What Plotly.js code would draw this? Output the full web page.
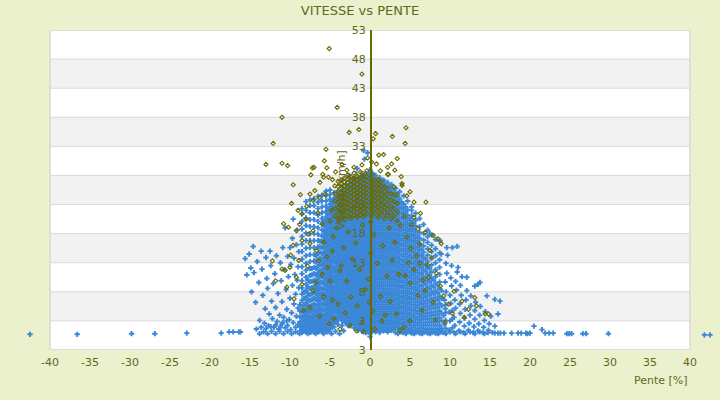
<!DOCTYPE html>
<html><head><meta charset="utf-8">
<script src="https://cdn.plot.ly/plotly-3.0.1.min.js"></script>
<style>html,body{margin:0;padding:0;background:#ebf0cd}#chart{width:720px;height:400px}</style>
</head><body><div id="chart"></div>
<script>
const chartTitle = 'VITESSE vs PENTE';
const xTitle = 'Pente [%]';
const yTitle = 'Vitesse [km/h]';
const xTicks = [-40,-35,-30,-25,-20,-15,-10,-5,0,5,10,15,20,25,30,35,40];
const yTickVals = [-2,3,8,13,18,23,28,33,38,43,48,53];
const yTickText = ['3','3','8','13','18','23','28','33','38','43','48','53'];

// Blue series: each row = [pente, vitesse, vitesse, ...]
const blueCols = [
[-8.75,1.3,2.0,2.8,3.7,4.7,5.8],
[-8.5,1.0,1.5,2.1,2.8,3.6,4.5,5.5,6.5,7.6,8.7,9.9,11.1,12.3,13.6,14.9,16.2,17.5,18.8,20.1,21.4,22.3],
[-8.25,1.4,2.1,2.9,3.8,4.8,5.8,6.9,8.0],
[-8.0,1.2,1.8,2.5,3.3,4.2,5.1,6.1,7.1,8.2,9.3,10.5,11.7,12.9,14.2,15.5,16.8,18.1,19.4,20.7,22.0,23.5],
[-7.75,1.4,2.1,2.9,3.7,4.6,5.6,6.6,7.7,8.8,10.0],
[-7.5,1.0,1.6,2.2,2.9,3.7,4.6,5.5,6.5,7.5,8.6,9.7,10.8,12.0,13.2,14.4,15.6,16.8,18.0,19.2,20.4,21.6,22.8,23.8],
[-7.25,1.5,2.2,3.0,3.8,4.7,5.6,6.6,7.6,8.7,9.8,10.9,12.0],
[-7.0,1.3,1.9,2.6,3.3,4.1,5.0,5.9,6.9,7.9,8.9,10.0,11.1,12.2,13.3,14.4,15.6,16.8,18.0,19.2,20.4,21.6,22.8,24.0],
[-6.75,1.5,2.2,3.0,3.9,4.8,5.7,6.7,7.7,8.7,9.8,10.9,12.0,13.1,14.2],
[-6.5,1.1,1.7,2.3,3.0,3.8,4.6,5.5,6.4,7.3,8.3,9.3,10.3,11.3,12.4,13.5,14.6,15.7,16.8,17.9,19.0,20.1,21.2,22.3,23.4,24.4],
[-6.25,1.6,2.4,3.2,4.1,5.0,5.9,6.8,7.7,8.7,9.7,10.7,11.7,12.7,13.7,14.7,15.7,16.7],
[-6.0,1.4,2.0,2.7,3.4,4.2,5.0,5.9,6.8,7.7,8.6,9.6,10.6,11.6,12.6,13.6,14.6,15.6,16.6,17.6,18.6,19.6,20.6,21.6,22.6,23.6,24.6],
[-5.75,1.6,2.4,3.2,4.0,4.9,5.8,6.7,7.6,8.5,9.4,10.3,11.2,12.1,13.0,13.9,14.8,15.7,16.6,17.5,18.4,19.3,20.2],
[-5.5,1.2,1.9,2.6,3.3,4.1,4.9,5.7,6.5,7.4,8.3,9.2,10.1,11.0,11.9,12.8,13.7,14.6,15.5,16.4,17.3,18.2,19.1,20.0,20.9,21.8,22.7,23.6,24.5,25.3],
[-5.25,1.6,2.5,3.4,4.3,5.2,6.1,7.0,7.9,8.8,9.7,10.6,11.5,12.4,13.3,14.2,15.1,16.0,16.9,17.8,18.7,19.6,20.5,21.4,22.3],
[-5.0,1.5,2.3,3.1,3.9,4.7,5.5,6.3,7.1,7.9,8.7,9.5,10.3,11.1,11.9,12.7,13.5,14.3,15.1,15.9,16.7,17.5,18.3,19.1,19.9,20.7,21.5,22.3,23.1,23.9,24.7,25.5],
[-4.75,1.9,2.7,3.5,4.3,5.1,5.9,6.7,7.5,8.3,9.1,9.9,10.7,11.5,12.3,13.1,13.9,14.7,15.5,16.3,17.1,17.9,18.7,19.5,20.3,21.1,21.9,22.7,23.5],
[-4.5,2.0,2.9,3.7,4.6,5.4,6.3,7.1,8.0,8.8,9.7,10.5,11.4,12.2,13.1,13.9,14.8,15.6,16.5,17.3,18.2,19.0,19.9,20.7,21.6,22.4,23.3,24.1,25.0],
[-4.25,2.8,3.6,4.5,5.3,6.2,7.0,7.9,8.7,9.6,10.4,11.3,12.1,13.0,13.8,14.7,15.5,16.4,17.2,18.1,18.9,19.8,20.6,21.5,22.3,23.2,24.0],
[-4.0,2.4,3.2,4.1,4.9,5.8,6.6,7.5,8.3,9.2,10.0,10.9,11.7,12.6,13.4,14.3,15.1,16.0,16.8,17.7,18.5,19.4,20.2,21.1,21.9,22.8,23.6,24.5,25.4],
[-3.75,3.6,4.4,5.2,6.0,6.8,7.6,8.4,9.2,10.0,10.8,11.6,12.4,13.2,14.0,14.8,15.6,16.4,17.2,18.0,18.8,19.6,20.4,21.2,22.0,22.8,23.6,24.4],
[-3.5,2.2,3.0,3.8,4.6,5.4,6.2,7.0,7.8,8.6,9.4,10.2,11.0,11.8,12.6,13.4,14.2,15.0,15.8,16.6,17.4,18.2,19.0,19.8,20.6,21.4,22.2,23.0,23.8,24.6,25.4,26.0],
[-3.25,3.0,3.8,4.6,5.4,6.2,7.0,7.8,8.6,9.4,10.2,11.0,11.8,12.6,13.4,14.2,15.0,15.8,16.6,17.4,18.2,19.0,19.8,20.6,21.4,22.2,23.0,23.8,24.6,25.4],
[-3.0,2.6,3.4,4.2,5.0,5.8,6.6,7.4,8.2,9.0,9.8,10.6,11.4,12.2,13.0,13.8,14.6,15.4,16.2,17.0,17.8,18.6,19.4,20.2,21.0,21.8,22.6,23.4,24.2,25.0,25.8,26.5],
[-2.75,2.2,3.0,3.8,4.6,5.4,6.2,7.0,7.8,8.6,9.4,10.2,11.0,11.8,12.6,13.4,14.2,15.0,15.8,16.6,17.4,18.2,19.0,19.8,20.6,21.4,22.2,23.0,23.8,24.6,25.4,26.2],
[-2.5,2.2,3.0,3.8,4.6,5.4,6.2,7.0,7.8,8.6,9.4,10.2,11.0,11.8,12.6,13.4,14.2,15.0,15.8,16.6,17.4,18.2,19.0,19.8,20.6,21.4,22.2,23.0,23.8,24.6,25.4,26.2,27.0],
[-2.25,2.6,3.4,4.2,5.0,5.8,6.6,7.4,8.2,9.0,9.8,10.6,11.4,12.2,13.0,13.8,14.6,15.4,16.2,17.0,17.8,18.6,19.4,20.2,21.0,21.8,22.6,23.4,24.2,25.0,25.8,26.6],
[-2.0,1.8,2.6,3.4,4.2,5.0,5.8,6.6,7.4,8.2,9.0,9.8,10.6,11.4,12.2,13.0,13.8,14.6,15.4,16.2,17.0,17.8,18.6,19.4,20.2,21.0,21.8,22.6,23.4,24.2,25.0,25.8,26.6,27.3],
[-1.75,2.2,3.0,3.8,4.6,5.4,6.2,7.0,7.8,8.6,9.4,10.2,11.0,11.8,12.6,13.4,14.2,15.0,15.8,16.6,17.4,18.2,19.0,19.8,20.6,21.4,22.2,23.0,23.8,24.6,25.4,26.2,27.0],
[-1.5,1.4,2.2,3.0,3.8,4.6,5.4,6.2,7.0,7.8,8.6,9.4,10.2,11.0,11.8,12.6,13.4,14.2,15.0,15.8,16.6,17.4,18.2,19.0,19.8,20.6,21.4,22.2,23.0,23.8,24.6,25.4,26.2,27.0,27.6],
[-1.25,1.8,2.6,3.4,4.2,5.0,5.8,6.6,7.4,8.2,9.0,9.8,10.6,11.4,12.2,13.0,13.8,14.6,15.4,16.2,17.0,17.8,18.6,19.4,20.2,21.0,21.8,22.6,23.4,24.2,25.0,25.8,26.6,27.4],
[-1.0,1.2,1.8,2.6,3.4,4.2,5.0,5.8,6.6,7.4,8.2,9.0,9.8,10.6,11.4,12.2,13.0,13.8,14.6,15.4,16.2,17.0,17.8,18.6,19.4,20.2,21.0,21.8,22.6,23.4,24.2,25.0,25.8,26.6,27.3,28.0],
[-0.75,1.4,2.2,3.0,3.8,4.6,5.4,6.2,7.0,7.8,8.6,9.4,10.2,11.0,11.8,12.6,13.4,14.2,15.0,15.8,16.6,17.4,18.2,19.0,19.8,20.6,21.4,22.2,23.0,23.8,24.6,25.4,26.2,27.0,27.8],
[-0.5,1.0,1.6,2.2,3.0,3.8,4.6,5.4,6.2,7.0,7.8,8.6,9.4,10.2,11.0,11.8,12.6,13.4,14.2,15.0,15.8,16.6,17.4,18.2,19.0,19.8,20.6,21.4,22.2,23.0,23.8,24.6,25.4,26.2,27.0,27.7,28.3],
[-0.25,1.3,1.9,2.6,3.4,4.2,5.0,5.8,6.6,7.4,8.2,9.0,9.8,10.6,11.4,12.2,13.0,13.8,14.6,15.4,16.2,17.0,17.8,18.6,19.4,20.2,21.0,21.8,22.6,23.4,24.2,25.0,25.8,26.6,27.4,28.2],
[0.0,0.3,0.8,1.3,1.8,2.3,2.8,3.3,3.8,4.3,4.8,5.3,5.8,6.3,6.8,7.3,7.8,8.3,8.8,9.3,9.8,10.3,10.8,11.3,11.8,12.3,12.8,13.3,13.8,14.3,14.8,15.3,15.8,16.3,16.8,17.3,17.8,18.3,18.8,19.3,19.8,20.3,20.8,21.3,21.8,22.3,22.8,23.3,23.8,24.3,24.8,25.3,25.8,26.3,26.8,27.3,27.8,28.3,29.0],
[0.3,1.2,1.9,2.6,3.4,4.2,5.0,5.8,6.6,7.4,8.2,9.0,9.8,10.6,11.4,12.2,13.0,13.8,14.6,15.4,16.2,17.0,17.8,18.6,19.4,20.2,21.0,21.8,22.6,23.4,24.2,25.0,25.8,26.6,27.4,28.4],
[0.5,1.5,2.2,3.0,3.8,4.6,5.4,6.2,7.0,7.8,8.6,9.4,10.2,11.0,11.8,12.6,13.4,14.2,15.0,15.8,16.6,17.4,18.2,19.0,19.8,20.6,21.4,22.2,23.0,23.8,24.6,25.4,26.2,27.0,27.8],
[0.7,1.1,1.7,2.6,3.4,4.2,5.0,5.8,6.6,7.4,8.2,9.0,9.8,10.6,11.4,12.2,13.0,13.8,14.6,15.4,16.2,17.0,17.8,18.6,19.4,20.2,21.0,21.8,22.6,23.4,24.2,25.0,25.8,26.6,27.4,28.0],
[0.95,1.4,2.2,3.0,3.8,4.6,5.4,6.2,7.0,7.8,8.6,9.4,10.2,11.0,11.8,12.6,13.4,14.2,15.0,15.8,16.6,17.4,18.2,19.0,19.8,20.6,21.4,22.2,23.0,23.8,24.6,25.4,26.2,27.0],
[1.2,1.0,1.8,2.6,3.4,4.2,5.0,5.8,6.6,7.4,8.2,9.0,9.8,10.6,11.4,12.2,13.0,13.8,14.6,15.4,16.2,17.0,17.8,18.6,19.4,20.2,21.0,21.8,22.6,23.4,24.2,25.0,25.8,26.6,27.6],
[1.45,1.4,2.2,3.0,3.8,4.6,5.4,6.2,7.0,7.8,8.6,9.4,10.2,11.0,11.8,12.6,13.4,14.2,15.0,15.8,16.6,17.4,18.2,19.0,19.8,20.6,21.4,22.2,23.0,23.8,24.6,25.4,26.2,27.0],
[1.7,1.3,1.8,2.6,3.4,4.2,5.0,5.8,6.6,7.4,8.2,9.0,9.8,10.6,11.4,12.2,13.0,13.8,14.6,15.4,16.2,17.0,17.8,18.6,19.4,20.2,21.0,21.8,22.6,23.4,24.2,25.0,25.8,26.6,27.2],
[1.95,1.4,2.2,3.0,3.8,4.6,5.4,6.2,7.0,7.8,8.6,9.4,10.2,11.0,11.8,12.6,13.4,14.2,15.0,15.8,16.6,17.4,18.2,19.0,19.8,20.6,21.4,22.2,23.0,23.8,24.6,25.4,26.2],
[2.2,1.1,1.8,2.6,3.4,4.2,5.0,5.8,6.6,7.4,8.2,9.0,9.8,10.6,11.4,12.2,13.0,13.8,14.6,15.4,16.2,17.0,17.8,18.6,19.4,20.2,21.0,21.8,22.6,23.4,24.2,25.0,25.8,26.8],
[2.45,1.4,2.2,3.0,3.8,4.6,5.4,6.2,7.0,7.8,8.6,9.4,10.2,11.0,11.8,12.6,13.4,14.2,15.0,15.8,16.6,17.4,18.2,19.0,19.8,20.6,21.4,22.2,23.0,23.8,24.6,25.4,26.2],
[2.7,1.4,1.8,2.6,3.4,4.2,5.0,5.8,6.6,7.4,8.2,9.0,9.8,10.6,11.4,12.2,13.0,13.8,14.6,15.4,16.2,17.0,17.8,18.6,19.4,20.2,21.0,21.8,22.6,23.4,24.2,25.0,25.8,26.4],
[2.95,1.6,2.2,3.0,3.8,4.6,5.4,6.2,7.0,7.8,8.6,9.4,10.2,11.0,11.8,12.6,13.4,14.2,15.0,15.8,16.6,17.4,18.2,19.0,19.8,20.6,21.4,22.2,23.0,23.8,24.6,25.4],
[3.2,1.0,1.8,2.6,3.4,4.2,5.0,5.8,6.6,7.4,8.2,9.0,9.8,10.6,11.4,12.2,13.0,13.8,14.6,15.4,16.2,17.0,17.8,18.6,19.4,20.2,21.0,21.8,22.6,23.4,24.2,25.0,25.8],
[3.45,2.0,2.8,3.6,4.4,5.2,6.0,6.8,7.6,8.4,9.2,10.0,10.8,11.6,12.4,13.2,14.0,14.8,15.6,16.4,17.2,18.0,18.8,19.6,20.4,21.2,22.0,22.8,23.6,24.4],
[3.7,1.2,1.6,2.4,3.2,4.0,4.8,5.6,6.4,7.2,8.0,8.8,9.6,10.4,11.2,12.0,12.8,13.6,14.4,15.2,16.0,16.8,17.6,18.4,19.2,20.0,20.8,21.6,22.4,23.2,24.0,25.2],
[3.95,1.8,2.7,3.6,4.5,5.4,6.3,7.2,8.1,9.0,9.9,10.8,11.7,12.6,13.5,14.4,15.3,16.2,17.1,18.0,18.9,19.8,20.7,21.6,22.5,23.4],
[4.2,1.0,1.5,2.4,3.3,4.2,5.1,6.0,6.9,7.8,8.7,9.6,10.5,11.4,12.3,13.2,14.1,15.0,15.9,16.8,17.7,18.6,19.5,20.4,21.3,22.2,23.1,24.5],
[4.45,1.9,2.8,3.7,4.6,5.5,6.4,7.3,8.2,9.1,10.0,10.9,11.8,12.7,13.6,14.5,15.4,16.3,17.2,18.1,19.0,19.9,20.8,21.7,22.6],
[4.7,1.2,1.4,2.3,3.2,4.1,5.0,5.9,6.8,7.7,8.6,9.5,10.4,11.3,12.2,13.1,14.0,14.9,15.8,16.7,17.6,18.5,19.4,20.3,21.2,22.1,23.6],
[4.95,1.7,2.6,3.5,4.4,5.3,6.2,7.1,8.0,8.9,9.8,10.7,11.6,12.5,13.4,14.3,15.2,16.1,17.0,17.9,18.8,19.7,20.6],
[5.2,0.9,1.3,2.2,3.1,4.0,4.9,5.8,6.7,7.6,8.5,9.4,10.3,11.2,12.1,13.0,13.9,14.8,15.7,16.6,17.5,18.4,19.3,20.2,21.1,22.0],
[5.45,1.8,2.8,3.8,4.8,5.8,6.8,7.8,8.8,9.8,10.8,11.8,12.8,13.8,14.8,15.8,16.8,17.8,18.8,19.8],
[5.7,1.0,1.3,2.3,3.3,4.3,5.3,6.3,7.3,8.3,9.3,10.3,11.3,12.3,13.3,14.3,15.3,16.3,17.3,18.3,19.3,20.3,21.5],
[5.95,1.7,2.7,3.7,4.7,5.7,6.7,7.7,8.7,9.7,10.7,11.7,12.7,13.7,14.7,15.7,16.7,17.7],
[6.2,0.9,1.2,2.2,3.2,4.2,5.2,6.2,7.2,8.2,9.2,10.2,11.2,12.2,13.2,14.2,15.2,16.2,17.2,18.2,19.2,20.6],
[6.45,1.7,2.7,3.8,4.8,5.9,6.9,8.0,9.0,10.1,11.1,12.2,13.2,14.3,15.3],
[6.7,1.0,1.2,2.2,3.3,4.3,5.4,6.4,7.5,8.5,9.6,10.6,11.7,12.7,13.8,14.8,15.9,16.9,18.0,19.6],
[6.95,1.6,2.7,3.8,4.9,6.0,7.1,8.2,9.3,10.4,11.5,12.6,13.7],
[7.2,0.9,1.1,2.2,3.3,4.4,5.5,6.6,7.7,8.8,9.9,11.0,12.1,13.2,14.3,15.4,16.5,17.5,18.6],
[7.45,1.6,2.8,3.9,5.1,6.2,7.4,8.5,9.7,10.8,12.0],
[7.7,1.0,1.1,2.2,3.4,4.5,5.7,6.8,8.0,9.1,10.3,11.4,12.6,13.7,14.9,16.0,17.8],
[7.95,1.6,2.8,4.0,5.2,6.4,7.6,8.8,10.0],
[8.2,0.9,1.0,2.2,3.4,4.6,5.8,7.0,8.2,9.4,10.6,11.8,13.0,14.2,15.4,17.0],
[8.45,1.6,2.8,4.1,5.3,6.6,7.8,9.1],
[8.7,1.3,1.0,2.2,3.5,4.7,6.0,7.2,8.5,9.7,11.0,12.2,13.5,14.7,16.8],
[8.95,1.7,3.0,4.3,5.6,6.9,8.2],
[9.45,1.7,3.1,4.4,5.8],
[10.3,1.8,3.3,4.8]
];

// Blue series: scattered points [pente, vitesse]
const bluePts = [
[-42.5,0.7],[-36.6,0.7],[-29.8,0.8],[-26.9,0.8],[-22.9,0.9],[-18.6,0.9],[-17.6,1.1],[-17.1,1.1],[-16.4,1.1],[-16.2,1.1],
[14.75,1.0],[15.6,0.9],[16.0,0.9],[16.3,0.9],[16.75,0.9],[17.7,0.9],[18.5,0.9],[18.9,0.9],[19.5,0.9],[19.7,0.8],[20.0,0.9],
[20.5,2.1],[21.5,1.5],[21.9,0.9],[22.4,0.9],[22.9,0.9],[24.6,0.8],[24.9,0.8],[25.2,0.8],[26.6,0.8],[27.0,0.8],[29.8,0.8],[41.8,0.6],[42.5,0.6],
[-0.8,32.3],[-0.3,31.9],[-0.7,30.8],[1.1,26.6],[1.7,27.1],[-1.6,29.2],[-2.6,28.0],[5.2,22.6],[7.5,18.0],[8.75,16.8],[8.9,14.5],
[-15.6,13.7],[-15.4,10.9],[-15.1,14.5],[-14.9,12.1],[-14.8,8.0],[-14.6,15.8],[-14.5,11.3],[-14.3,6.2],[-14.1,13.2],[-13.9,9.6],[-13.8,3.1],
[-13.6,15.0],[-13.5,11.9],[-13.4,7.4],[-13.2,2.6],[-13.1,5.1],[-13.0,13.9],[-12.9,10.3],[-12.8,8.6],[-12.7,2.2],[-12.6,4.2],[-12.5,15.0],
[-12.4,12.5],[-12.3,6.4],[-12.2,3.4],[-12.1,9.4],[-12.0,1.9],[-11.9,11.1],[-11.8,5.3],[-11.7,14.2],[-11.6,2.9],[-11.5,7.7],[-11.4,1.6],
[-11.3,4.0],[-11.2,13.0],[-11.1,9.9],[-11.0,2.5],[-11.0,6.3],[-10.9,15.6],[-10.8,3.6],[-10.7,11.8],[-10.6,1.8],[-10.6,19.0],[-10.5,8.4],
[-10.4,5.0],[-10.3,2.2],[-10.3,14.1],[-10.2,10.6],[-10.1,3.2],[-10.0,6.9],[-10.0,15.6],[-9.9,1.5],[-9.9,12.7],[-9.8,4.4],[-9.7,9.1],
[-9.7,17.2],[-9.6,2.7],[-9.6,20.5],[-9.5,5.9],[-9.5,13.8],[-9.4,11.0],[-9.3,1.9],[-9.3,7.6],[-9.2,3.8],[-9.2,16.1],[-9.1,10.0],[-9.1,18.6],
[-9.0,5.2],[-9.0,12.3],[-9.0,2.4],[-8.9,8.7],[-8.9,14.9],
[-14.2,1.6],[-13.6,1.9],[-13.0,1.7],[-12.4,2.0],[-11.8,2.3],[-11.2,2.0],[-10.9,2.7],[-10.4,3.0],
[9.2,1.0],[9.3,2.4],[9.2,3.9],[9.4,5.1],[9.3,6.6],[9.5,8.0],[9.4,9.7],[9.6,11.2],[9.5,12.9],[9.7,14.3],[9.6,15.6],
[9.9,1.4],[10.0,3.0],[9.9,4.5],[10.1,6.0],[10.0,7.4],[10.2,9.0],[10.1,10.4],[10.2,12.5],[10.3,15.6],
[10.5,1.0],[10.6,2.2],[10.5,3.6],[10.7,5.2],[10.6,6.6],[10.8,8.3],[10.7,9.8],[10.9,11.4],[10.9,15.8],[11.0,12.2],
[11.1,1.3],[11.2,2.8],[11.3,4.3],[11.2,5.9],[11.4,7.4],[11.3,9.1],[11.5,10.6],
[11.7,1.0],[11.8,2.1],[11.8,3.5],[11.9,5.0],[12.0,6.6],[12.1,8.2],[12.1,10.5],
[12.3,1.4],[12.4,2.6],[12.5,4.0],[12.6,5.6],[12.6,7.3],
[12.9,1.0],[13.0,2.0],[13.1,3.3],[13.1,4.8],[13.1,9.0],[13.2,6.2],
[13.5,1.3],[13.6,2.5],[13.5,9.3],[13.7,4.0],[13.75,9.6],[13.8,5.5],
[14.1,1.0],[14.2,1.9],[14.3,3.1],[14.4,4.6],[14.6,7.3],
[14.8,1.4],[14.9,2.5],[15.1,3.8],[15.3,1.0],[15.6,6.7],[15.6,2.1],[16.0,4.2],[16.25,6.4],
[-13.8,0.8],[-13.3,1.1],[-12.8,0.8],[-12.3,1.2],[-11.8,0.8],[-11.3,1.2],[-10.8,0.8],[-10.3,1.2],[-9.8,0.8],[-9.3,1.1],[-8.8,0.8],[-8.3,1.2],
[-7.8,0.8],[-7.3,1.1],[-6.8,0.8],[-6.3,1.2],[-5.8,0.8],[-5.3,1.1],[-4.8,0.8],[-4.3,1.2],[-3.8,0.8],[-3.3,1.3],
[3.5,0.8],[4.0,1.1],[4.5,0.8],[5.0,1.1],[5.5,0.8],[6.0,1.1],[6.5,0.8],[7.0,1.1],[7.5,0.8],[8.0,1.1],[8.5,0.8],[9.0,1.1],[9.5,0.8],[10.0,1.1],
[10.7,0.8],[11.3,1.1],[11.9,0.8],[12.5,1.1],[13.1,0.8],[13.7,1.1],[14.3,0.8]
];

// Olive series: dense band rows [pente, vitesse, ...]
const oliveCols = [
[-4.4,21.0,22.3,23.6,24.9,26.2],
[-4.0,20.6,21.6,22.5,23.4,24.3,25.2,26.1,27.0],
[-3.6,20.8,21.6,22.3,23.0,23.7,24.4,25.1,25.8,26.5,27.2],
[-3.2,20.4,21.2,22.0,22.7,23.4,24.1,24.8,25.5,26.2,26.9,27.6],
[-2.8,21.0,21.8,22.5,23.2,23.9,24.6,25.3,26.0,26.7,27.4,28.1],
[-2.4,20.6,21.4,22.2,22.9,23.6,24.3,25.0,25.7,26.4,27.1,27.8],
[-2.0,21.1,21.9,22.6,23.3,24.0,24.7,25.4,26.1,26.8,27.5,28.4],
[-1.6,20.8,21.6,22.3,23.0,23.7,24.4,25.1,25.8,26.5,27.2,27.9],
[-1.2,21.2,22.0,22.7,23.4,24.1,24.8,25.5,26.2,26.9,27.6,28.6],
[-0.8,20.9,21.7,22.4,23.1,23.8,24.5,25.2,25.9,26.6,27.3,28.0],
[-0.4,21.4,22.2,22.9,23.6,24.3,25.0,25.7,26.4,27.1,27.8,28.8],
[0.2,21.0,21.8,22.5,23.2,23.9,24.6,25.3,26.0,26.7,27.4,28.2],
[0.6,21.5,22.3,23.0,23.7,24.4,25.1,25.8,26.5,27.2],
[1.0,20.8,21.7,22.5,23.3,24.1,24.9,25.7,26.5,27.3],
[1.4,21.3,22.2,23.0,23.8,24.6,25.4,26.2,27.0],
[1.8,20.6,21.6,22.5,23.4,24.3,25.2,26.1],
[2.2,21.2,22.2,23.1,24.0,24.9,25.8,28.2],
[2.6,20.5,21.6,22.7,23.8,24.9],
[3.0,21.0,22.3,23.5,24.6,26.0],
[3.4,20.2,21.7,23.2,24.7]
];

// Olive series: scattered points [pente, vitesse]
const olivePts = [
[-5.1,49.8],[-1.0,45.4],[-4.1,39.7],[-11.0,38.0],[4.5,36.2],[-1.4,35.9],[-2.6,35.4],[0.7,35.2],[2.8,34.7],[0.4,34.3],[4.4,33.5],[-5.5,32.5],[1.7,31.6],
[-11.0,30.1],[-10.3,29.7],[-5.7,30.5],[3.4,30.9],[-9.6,26.4],[-12.1,33.5],[-13.0,29.9],[-7.2,29.3],[-7.4,28.1],[-5.4,29.3],[-5.2,27.7],[-5.8,27.7],
[-6.25,26.8],[-6.9,25.4],[-7.5,24.8],[-6.3,24.2],[-5.6,24.8],[-7.1,23.7],[-9.0,22.0],[-8.5,21.4],[-8.0,20.5],[-10.8,19.7],[-10.2,19.1],[-9.2,18.5],
[-7.7,17.9],[-8.5,16.8],[-7.5,16.3],[-6.7,15.1],[-5.8,16.5],[-11.0,11.9],[-10.6,11.7],[-10.0,12.2],[-9.2,10.5],[-8.5,9.3],[-7.1,8.2],[-7.5,5.3],
[-5.0,9.9],[-3.75,11.6],[-4.0,5.9],[-3.1,4.4],[-3.75,1.6],[-1.7,1.3],[-1.0,2.7],[-0.8,1.1],[-7.1,18.5],[-6.0,19.7],[-5.0,20.2],[-4.8,22.0],
[-7.0,29.4],[-5.9,28.2],[-4.7,27.3],[-2.9,28.9],[-2.6,27.6],[-2.0,29.4],[-1.0,29.8],[0.8,30.0],[1.3,28.8],[2.2,29.4],[3.1,28.9],[4.0,26.6],
[2.7,30.0],[0.2,30.3],[2.3,28.2],[4.0,26.3],[5.5,23.4],[7.0,23.4],[4.6,24.5],[5.0,25.2],[3.9,27.8],[-3.5,29.9],[-4.3,28.6],[-0.3,31.0],[1.1,31.5],
[6.9,18.2],[7.9,17.7],[8.5,17.1],[8.9,16.3],[6.0,18.8],[5.2,19.5],[4.6,17.4],[6.25,16.2],[5.1,15.5],[7.5,15.1],[7.7,13.9],[7.2,12.6],[7.3,10.5],
[6.6,10.0],[6.9,8.2],[9.2,7.3],[9.8,5.9],[13.3,5.6],[13.1,7.0],[14.4,4.2],[14.8,4.2],[10.3,4.3],[9.4,2.7],[3.3,4.2],[1.5,3.0],[0.6,1.6],[3.75,1.3],
[4.2,1.9],[5.5,20.8],[6.3,21.5],[4.3,21.0],[5.8,14.2],[4.8,13.0],[5.5,11.8],[6.2,12.9],[4.4,10.8],[5.0,9.5],[6.0,7.4],[8.3,11.2],[8.8,9.0],
[10.5,8.1],[11.5,6.4],[12.3,5.0],[11.8,3.6],[7.9,6.2],[6.5,4.8],[5.0,3.0],[8.2,3.2],
[-6.5,21.6],[-7.9,22.7],[-8.8,19.6],[-9.6,16.0],[-9.9,14.3],[-8.9,13.4],[-7.8,12.4],[-6.4,13.3],[-5.4,14.0],[-6.0,11.0],[-5.3,12.2],[-4.6,17.5],
[-4.7,15.0],[-6.8,9.6],[-5.8,7.2],[-4.7,6.6],[-6.3,3.8],[-5.1,2.5],[-2.5,2.2],[-4.5,3.4],[-8.3,4.8],[-9.5,6.8],[-10.4,8.8],[-11.8,9.9],[-12.2,13.3],
[-9.8,23.2],[-8.7,24.7],[-4.2,19.0],
[-2.7,18.3],[-1.8,16.4],[-0.9,19.5],[0.5,17.8],[1.6,15.9],[2.4,19.0],[-2.2,13.6],[-1.3,11.8],[0.9,12.9],[2.1,10.7],[-2.9,9.8],[-0.6,8.4],
[1.3,7.2],[2.8,13.4],[-3.3,15.6],[3.1,16.5],[-1.6,5.6],[0.3,4.7],[2.5,6.3],[-2.4,7.1],[0.1,14.6],[-0.2,10.2],[0.1,20.0],[-0.1,6.2],[1.9,4.0],
[-3.6,12.5],[3.6,11.0],[3.8,19.4],[-3.9,20.0]
];

function flatten(cols, pts) {
  const xs = [], ys = [];
  cols.forEach(c => { for (let i = 1; i < c.length; i++) { xs.push(c[0]); ys.push(c[i]); } });
  pts.forEach(p => { xs.push(p[0]); ys.push(p[1]); });
  return [xs, ys];
}
const [bx, by] = flatten(blueCols, bluePts);
const [ox, oy] = flatten(oliveCols, olivePts);

const textColor = '#62681c';
const axisColor = '#666a00';
const bgColor = '#ebf0cd';
const font = {family: 'DejaVu Sans, Verdana, sans-serif', size: 11, color: textColor};
const xMin = xTicks[0], xMax = xTicks[xTicks.length - 1];
const yMin = yTickVals[0], yMax = yTickVals[yTickVals.length - 1];

const shapes = [];
shapes.push({type: 'rect', xref: 'x', yref: 'y', x0: xMin, x1: xMax, y0: yMin, y1: yMax,
  fillcolor: '#ffffff', line: {width: 0}, layer: 'below'});
for (let i = 1; i + 1 < yTickVals.length; i += 2) {
  shapes.push({type: 'rect', xref: 'x', yref: 'y', x0: xMin, x1: xMax, y0: yTickVals[i], y1: yTickVals[i + 1],
    fillcolor: '#f2f2f2', line: {width: 0}, layer: 'below'});
}
yTickVals.forEach(v => shapes.push({type: 'line', xref: 'x', yref: 'y', x0: xMin, x1: xMax, y0: v, y1: v,
  line: {color: '#d9d9d9', width: 1}, layer: 'below'}));
shapes.push({type: 'rect', xref: 'x', yref: 'y', x0: xMin, x1: xMax, y0: yMin, y1: yMax,
  line: {color: '#d9d9d9', width: 1.5}, layer: 'below'});

const traces = [
  {type: 'scatter', mode: 'markers', x: bx, y: by, cliponaxis: false, hoverinfo: 'skip',
   marker: {symbol: 'cross-thin-open', size: 3.8, color: '#3a87d8', line: {width: 1.9, color: '#3a87d8'}}},
  {type: 'scatter', mode: 'markers', x: ox, y: oy, cliponaxis: false, hoverinfo: 'skip',
   marker: {symbol: 'diamond-open', size: 3.2, color: '#6b6b00', line: {width: 1.1, color: '#6b6b00'}}}
];

const layout = {
  width: 720, height: 400,
  paper_bgcolor: bgColor, plot_bgcolor: bgColor,
  margin: {l: 28, r: 8, t: 30, b: 50, pad: 0},
  showlegend: false,
  font: font,
  title: {text: chartTitle, font: {family: font.family, size: 13, color: textColor}, x: 0.5, xanchor: 'center', y: 0.975, yanchor: 'middle', yref: 'container'},
  xaxis: {range: [-42.75, 42.75], tickvals: xTicks, ticktext: xTicks.map(String),
    showgrid: false, zeroline: false, showline: false, ticks: '', tickfont: font, ticklabelstandoff: 4},
  yaxis: {range: [yMin, yMax], tickvals: yTickVals, ticktext: yTickText,
    anchor: 'free', position: 0.5, side: 'left',
    showgrid: false, zeroline: false,
    showline: true, linecolor: axisColor, linewidth: 1.5, ticks: '', tickfont: font, ticklabelstandoff: 2,
    title: {text: yTitle, font: font, standoff: 2}},
  shapes: shapes,
  annotations: [{text: xTitle, xref: 'x', yref: 'paper', x: xMax, y: 0, xanchor: 'right', yanchor: 'middle',
    yshift: -30, showarrow: false, font: font}]
};

Plotly.newPlot('chart', traces, layout, {displayModeBar: false, staticPlot: true});
</script>
</body></html>
